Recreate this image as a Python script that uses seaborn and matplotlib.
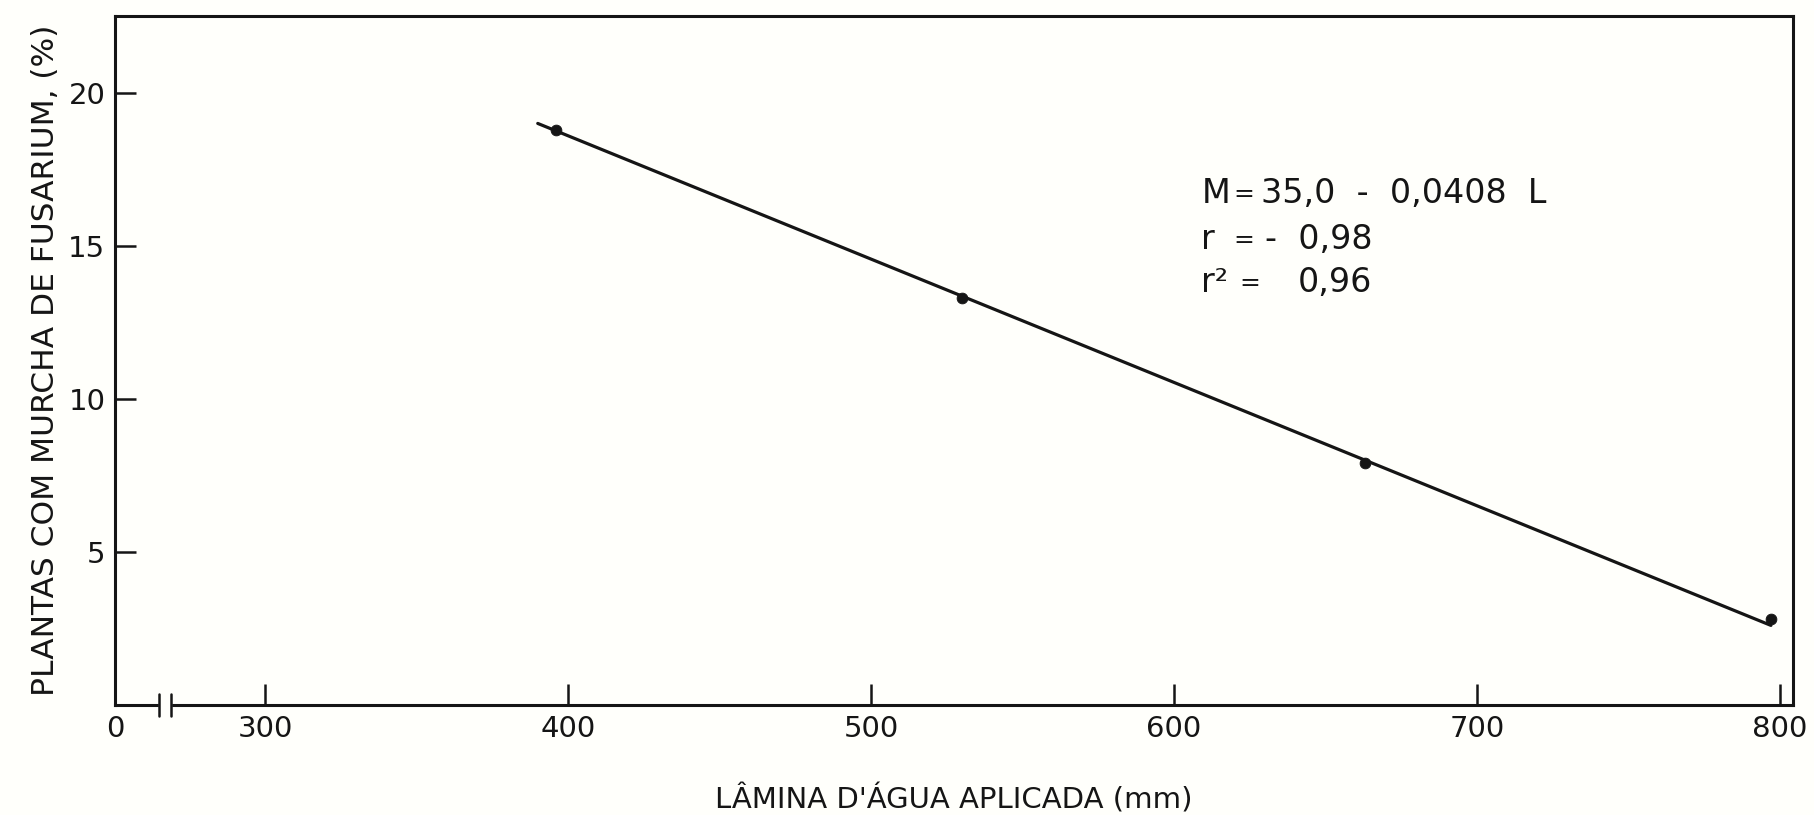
import numpy as np
import pandas as pd
import seaborn as sns
import matplotlib.pyplot as plt
from matplotlib.patches import Rectangle
import matplotlib.transforms as mtransforms

# values
lamina = [396, 530, 663, 797]          # mm applied
murcha = [18.8, 13.3, 7.9, 2.8]        # % plants with Fusarium wilt
fit_x = [390, 797]                     # drawn regression line ends
fit_y = [19.0, 2.6]

x_ticks = [250.5, 300, 400, 500, 600, 700, 800]
x_tick_labels = ["0", "300", "400", "500", "600", "700", "800"]
y_ticks = [5, 10, 15, 20]
break_x = (264.9, 268.9)

OUT_PATH = "out.png"


def main():
    pts = pd.DataFrame({"lamina": lamina, "murcha": murcha})
    fit = pd.DataFrame({"lamina": fit_x, "murcha": fit_y})

    sns.set_theme(style="white")
    paper = "#fffffb"
    ink = "#151515"
    plt.rcParams.update({
        "font.family": ["DejaVu Sans"],
        "axes.edgecolor": ink,
        "axes.linewidth": 2.2,
        "figure.facecolor": paper,
        "axes.facecolor": paper,
    })

    fig = plt.figure(figsize=(18.15, 8.15), dpi=100)
    ax = fig.add_axes([0.0634, 0.135, 0.9245, 0.845])

    sns.lineplot(data=fit, x="lamina", y="murcha", color=ink, lw=2.3, ax=ax)
    sns.scatterplot(data=pts, x="lamina", y="murcha", color=ink, s=60,
                    edgecolor=ink, zorder=3, ax=ax)

    ax.set_xlim(250.5, 804.3)
    ax.set_ylim(0, 22.5)
    ax.set_xticks(x_ticks)
    ax.set_xticklabels(x_tick_labels)
    ax.set_yticks(y_ticks)
    ax.tick_params(axis="both", which="major", bottom=True, left=True,
                   top=False, right=False, direction="in", length=15,
                   width=1.8, color=ink, labelsize=21, labelcolor=ink)
    ax.tick_params(axis="x", pad=7)
    ax.tick_params(axis="y", pad=7)
    ax.xaxis.get_major_ticks()[0].tick1line.set_visible(False)

    ax.set_xlabel("LÂMINA D'ÁGUA APLICADA (mm)", fontsize=21, color=ink)
    ax.xaxis.set_label_coords(0.5, -0.115)
    ax.set_ylabel("PLANTAS COM MURCHA DE FUSARIUM, (%)", fontsize=22.5,
                  color=ink)
    ax.yaxis.set_label_coords(-0.033, 0.5)

    # axis break on x
    trans = mtransforms.blended_transform_factory(ax.transData, ax.transAxes)
    ax.add_patch(Rectangle((break_x[0], -0.01), break_x[1] - break_x[0], 0.02,
                           transform=trans, color=paper, zorder=5,
                           clip_on=False))
    for bx in break_x:
        ax.plot([bx, bx], [-0.016, 0.016], transform=trans, color=ink,
                lw=1.8, clip_on=False, zorder=6)

    # regression equation; the lettering uses a smaller "=" sign
    fs, fs_eq = 24, 18
    eq_lines = [
        (16.7, [(609.0, "M", fs), (619.6, "=", fs_eq),
                (628.8, "35,0  -  0,0408  L", fs)]),
        (15.2, [(609.0, "r", fs), (619.6, "=", fs_eq),
                (630.0, "-  0,98", fs)]),
        (13.8, [(609.0, "r²", fs), (621.5, "=", fs_eq),
                (640.7, "0,96", fs)]),
    ]
    for y, tokens in eq_lines:
        for x, s, size in tokens:
            ax.text(x, y, s, fontsize=size, color=ink, va="center")

    fig.savefig(OUT_PATH, dpi=100)
    print(f"saved to {OUT_PATH}")


if __name__ == "__main__":
    main()
